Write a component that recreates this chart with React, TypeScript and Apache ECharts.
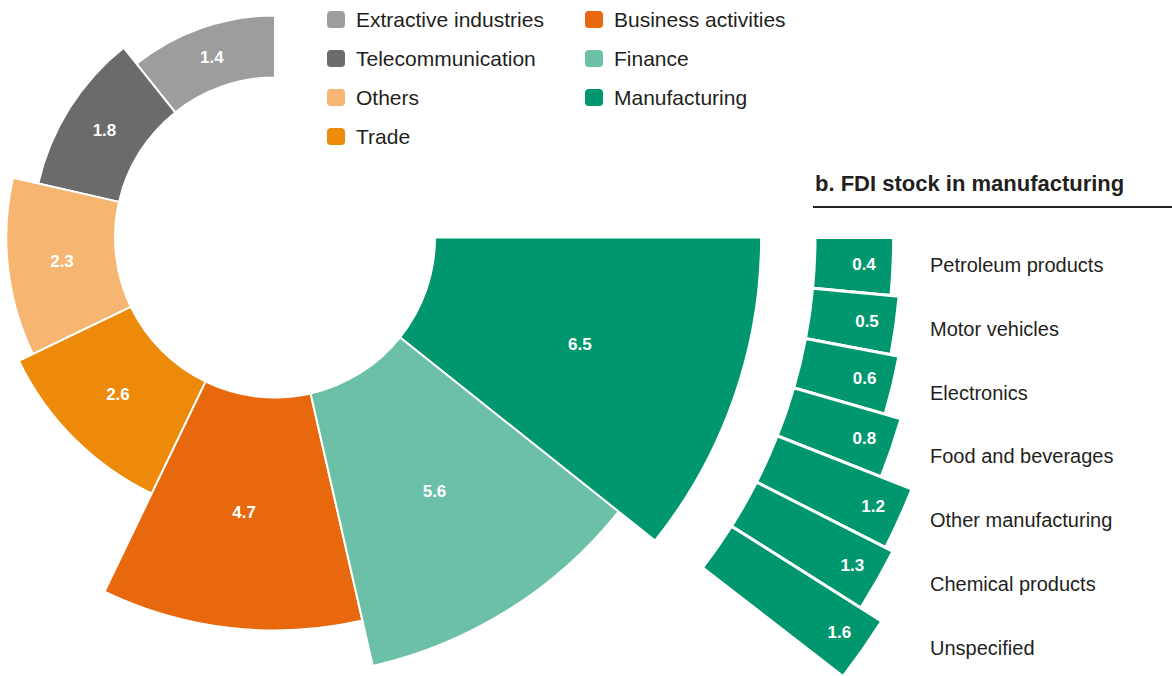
import React, { useEffect, useRef } from 'react';
import * as echarts from 'echarts';

const mainCategories = ['Extractive industries', 'Telecommunication', 'Others', 'Trade', 'Business activities', 'Finance', 'Manufacturing'];
const mainValues = [1.4, 1.8, 2.3, 2.6, 4.7, 5.6, 6.5];
const mainColors = ['#9d9d9d', '#6b6b6b', '#f6b672', '#ee8a0a', '#e8680e', '#6cc0a8', '#00976f'];
const legendLeftNames = ['Extractive industries', 'Telecommunication', 'Others', 'Trade'];
const legendRightNames = ['Business activities', 'Finance', 'Manufacturing'];

const subCategories = ['Petroleum products', 'Motor vehicles', 'Electronics', 'Food and beverages', 'Other manufacturing', 'Chemical products', 'Unspecified'];
const subValues = [0.4, 0.5, 0.6, 0.8, 1.2, 1.3, 1.6];
const subTitle = 'b. FDI stock in manufacturing';

const FONT = "'Liberation Sans', Arial, Helvetica, sans-serif";
const TEXT = '#231f20';

export default function App() {
  const ref = useRef<HTMLDivElement>(null);
  useEffect(() => {
    if (!ref.current) return;
    const chart = echarts.init(ref.current, undefined, { renderer: 'svg' });
    const cx = 275;
    const cy = 237.5;

    const valueLabel = {
      show: true,
      formatter: '{c}',
      color: '#ffffff',
      fontWeight: 'bold',
      fontSize: 17,
      fontFamily: FONT,
      rotate: 0,
    };

    const mainSeries = mainCategories.map((name, i) => ({
      type: 'bar',
      name,
      coordinateSystem: 'polar',
      polarIndex: 0,
      data: mainValues.map((v, j) => (j === i ? v : null)),
      barGap: '-100%',
      barCategoryGap: '0%',
      itemStyle: { color: mainColors[i], borderColor: '#ffffff', borderWidth: 2 },
      label: { ...valueLabel, position: 'middle' },
    }));

    const subSeries = {
      type: 'bar',
      name: 'FDI stock in manufacturing',
      coordinateSystem: 'polar',
      polarIndex: 1,
      data: subValues,
      barCategoryGap: '0%',
      itemStyle: { color: mainColors[6], borderColor: '#ffffff', borderWidth: 3 },
      label: { ...valueLabel, position: 'insideEnd', distance: 29, offset: [0, -9] },
    };

    const subLabels = subCategories.map((name, i) => ({
      type: 'text',
      x: 930,
      y: 265 + i * 63.8,
      style: {
        text: name,
        font: `20px ${FONT}`,
        fill: TEXT,
        textVerticalAlign: 'middle',
        verticalAlign: 'middle',
      },
    }));

    const legendBase = {
      orient: 'vertical',
      icon: 'roundRect',
      itemWidth: 20,
      itemHeight: 19,
      itemGap: 18,
      padding: 0,
      textStyle: { fontSize: 21, fontFamily: FONT, color: TEXT, lineHeight: 19, padding: [0, 0, 0, 5] },
      selectedMode: false,
    };

    chart.setOption({
      animation: false,
      backgroundColor: '#ffffff',
      title: {
        text: subTitle,
        left: 815,
        top: 170,
        padding: 0,
        textStyle: { fontSize: 22, fontWeight: 'bold', fontFamily: FONT, color: TEXT, lineHeight: 26 },
      },
      legend: [
        { ...legendBase, left: 325, top: 9, data: legendLeftNames },
        { ...legendBase, left: 583, top: 9, data: legendRightNames },
      ],
      polar: [
        { center: [cx, cy], radius: [160, 512] },
        { center: [cx, cy], radius: [540, 718] },
      ],
      angleAxis: [
        {
          polarIndex: 0,
          type: 'category',
          data: mainCategories,
          startAngle: 90,
          endAngle: 360,
          clockwise: false,
          show: false,
        },
        {
          polarIndex: 1,
          type: 'category',
          data: subCategories,
          startAngle: 0,
          endAngle: -37.7,
          clockwise: true,
          show: false,
        },
      ],
      radiusAxis: [
        { polarIndex: 0, type: 'value', min: 0.2, max: 7, startValue: 0.2, show: false },
        { polarIndex: 1, type: 'value', min: -0.55, max: 1.6, startValue: -0.55, show: false },
      ],
      graphic: [
        {
          type: 'line',
          shape: { x1: 813, y1: 207, x2: 1172, y2: 207 },
          style: { stroke: TEXT, lineWidth: 2 },
        },
        ...subLabels,
      ],
      series: [...mainSeries, subSeries],
    });
    return () => chart.dispose();
  }, []);
  return <div ref={ref} style={{ position: 'absolute', left: 0, top: 0, width: 1172, height: 676 }} />;
}
